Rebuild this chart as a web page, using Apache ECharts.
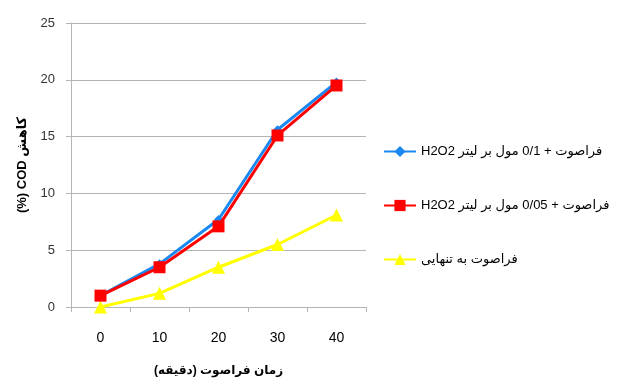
<!DOCTYPE html>
<html>
<head>
<meta charset="utf-8">
<script src="https://cdn.jsdelivr.net/npm/echarts@6/dist/echarts.min.js"></script>
<style>
  html, body { margin: 0; padding: 0; background: #ffffff; }
  #chart { width: 622px; height: 381px; }
</style>
</head>
<body>
<div id="chart"></div>
<script>
// Ultrasound time (minutes) on the category axis
const categories = ['0', '10', '20', '30', '40'];

// COD reduction (%) for each treatment
const us01H2O2 = [1.0, 3.8, 7.7, 15.6, 19.8];
const us005H2O2 = [1.0, 3.5, 7.1, 15.1, 19.5];
const usAlone = [0.0, 1.2, 3.5, 5.5, 8.1];

// Persian labels, wrapped in right-to-left embedding marks
const RLE = '\u202B', PDF = '\u202C';
const rtl = s => RLE + s + PDF;
const seriesNames = [
  rtl('فراصوت + 0/1 مول بر لیتر H2O2'),
  rtl('فراصوت + 0/05 مول بر لیتر H2O2'),
  rtl('فراصوت به تنهایی')
];
const xAxisTitle = rtl('زمان فراصوت (دقیقه)');
const yAxisTitle = rtl('کاهش COD (%)');

const FONT = '"Liberation Sans", Arial, "DejaVu Sans", sans-serif';

const chart = echarts.init(document.getElementById('chart'), null, { renderer: 'canvas' });

chart.setOption({
  backgroundColor: '#ffffff',
  animation: false,
  textStyle: { fontFamily: FONT },
  grid: {
    left: 71, right: 256, top: 23, bottom: 74,
    containLabel: false,
    outerBoundsMode: 'none'
  },
  legend: {
    orient: 'vertical',
    left: 383,
    top: 145,
    padding: 0,
    itemWidth: 32,
    itemHeight: 14,
    itemGap: 41,
    textStyle: { fontFamily: FONT, fontSize: 13, color: '#000000' },
    data: seriesNames
  },
  xAxis: {
    type: 'category',
    data: categories,
    boundaryGap: true,
    name: xAxisTitle,
    nameLocation: 'middle',
    nameGap: 58,
    nameTextStyle: { fontFamily: FONT, fontSize: 12, fontWeight: 'bold', color: '#000000' },
    axisLine: { show: true, lineStyle: { color: '#b4b4b4', width: 1 } },
    axisTick: { show: true, alignWithLabel: false, length: 5, lineStyle: { color: '#b4b4b4' } },
    axisLabel: { margin: 24, fontSize: 14, color: '#000000', fontFamily: FONT },
    splitLine: { show: false }
  },
  yAxis: {
    type: 'value',
    min: 0,
    max: 25,
    interval: 5,
    name: yAxisTitle,
    nameLocation: 'middle',
    nameGap: 42,
    nameTextStyle: { fontFamily: FONT, fontSize: 13, fontWeight: 'bold', color: '#000000' },
    axisLine: { show: true, lineStyle: { color: '#b4b4b4', width: 1 } },
    axisTick: { show: true, length: 5, lineStyle: { color: '#b4b4b4' } },
    axisLabel: { margin: 16, fontSize: 13, color: '#333333', fontFamily: FONT },
    splitLine: { show: true, lineStyle: { color: '#b4b4b4', width: 1 } }
  },
  series: [
    {
      name: seriesNames[0],
      type: 'line',
      data: us01H2O2,
      symbol: 'diamond',
      symbolSize: 9,
      showAllSymbol: true,
      lineStyle: { color: '#1a88f0', width: 3 },
      itemStyle: { color: '#1a88f0' },
      z: 2
    },
    {
      name: seriesNames[1],
      type: 'line',
      data: us005H2O2,
      symbol: 'rect',
      symbolSize: 12,
      showAllSymbol: true,
      lineStyle: { color: '#ff0000', width: 3 },
      itemStyle: { color: '#ff0000' },
      z: 3
    },
    {
      name: seriesNames[2],
      type: 'line',
      data: usAlone,
      symbol: 'triangle',
      symbolSize: 13,
      showAllSymbol: true,
      lineStyle: { color: '#ffff00', width: 3 },
      itemStyle: { color: '#ffff00' },
      z: 2
    }
  ]
});
</script>
</body>
</html>
